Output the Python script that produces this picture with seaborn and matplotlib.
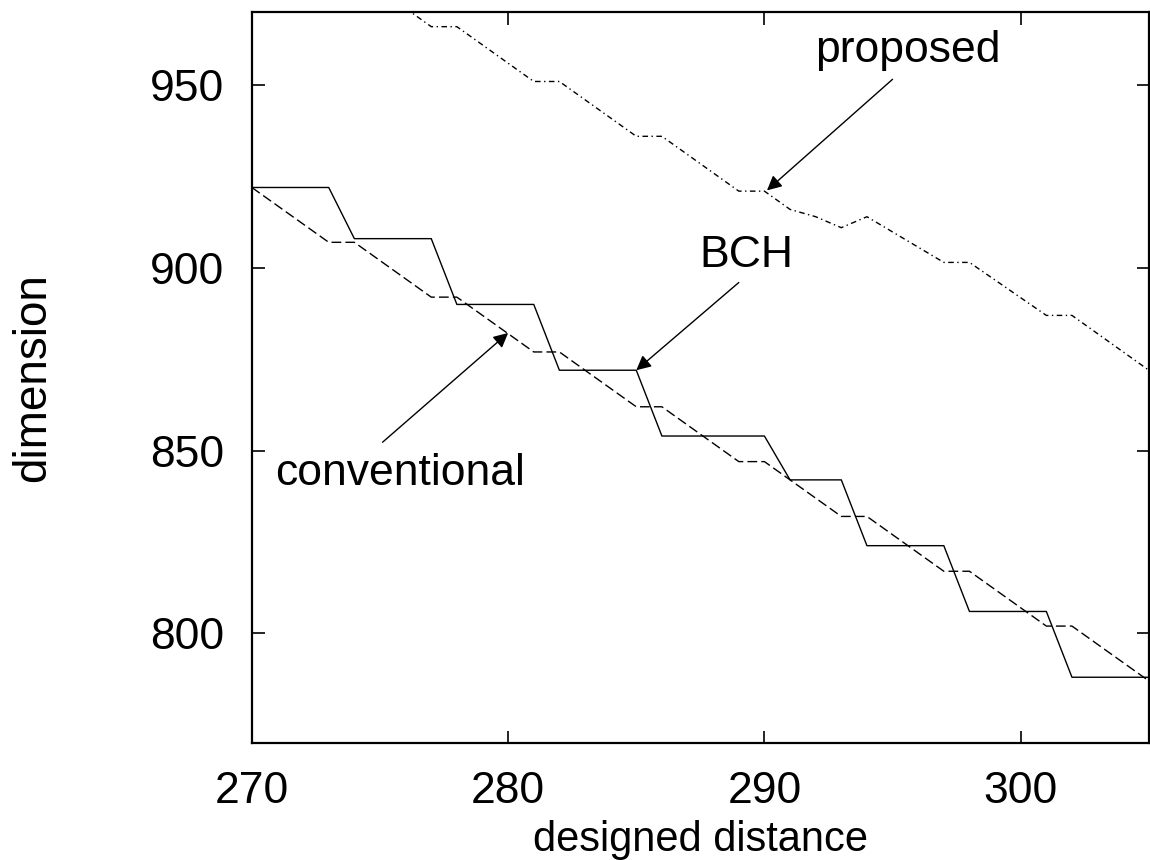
import numpy as np
import pandas as pd
import matplotlib
matplotlib.use("Agg")
import matplotlib.pyplot as plt
import seaborn as sns

# ── Data ────────────────────────────────────────────────
bch_x = [270, 273, 274, 277, 278, 281, 282, 285, 286, 290, 291, 293, 294, 297, 298, 301, 302, 305]
bch_y = [922, 922, 908, 908, 890, 890, 872, 872, 854, 854, 842, 842, 824, 824, 806, 806, 788, 788]

conv_x = [270, 273, 274, 277, 278, 281, 282, 285, 286, 289, 290, 293, 294, 297, 298, 301, 302, 305]
conv_y = [922, 907, 907, 892, 892, 877, 877, 862, 862, 847, 847, 832, 832, 817, 817, 802, 802, 787]

prop_x = [276, 277, 278, 281, 282, 285, 286, 289, 290, 291, 292, 293, 294, 297, 298, 301, 302, 305]
prop_y = [971, 966, 966, 951, 951, 936, 936, 921, 921, 916, 914, 911, 914, 901.5, 901.5, 887, 887, 872]

x_ticks = [270, 280, 290, 300]
y_ticks = [800, 850, 900, 950]

df = pd.concat([
    pd.DataFrame({"x": bch_x, "y": bch_y, "method": "BCH"}),
    pd.DataFrame({"x": conv_x, "y": conv_y, "method": "conventional"}),
    pd.DataFrame({"x": prop_x, "y": prop_y, "method": "proposed"}),
])

# ── Style ───────────────────────────────────────────────
sns.set_style("ticks")
plt.rcParams["font.family"] = ["Liberation Sans", "DejaVu Sans"]
for key in ["text.color", "axes.labelcolor", "xtick.color", "ytick.color", "axes.edgecolor"]:
    plt.rcParams[key] = "black"
FS = 32

fig = plt.figure(figsize=(11.5, 8.6), dpi=100)
ax = fig.add_axes([0.219, 0.136, 0.780, 0.850])

sns.lineplot(
    data=df, x="x", y="y", hue="method", style="method",
    palette={"BCH": "black", "conventional": "black", "proposed": "black"},
    dashes={"BCH": "", "conventional": (7, 3), "proposed": (4, 2.5, 1, 2.5)},
    linewidth=1.0, legend=False, sort=False, estimator=None, ax=ax,
)

ax.set_xlim(270, 305)
ax.set_ylim(770, 970)
ax.set_xticks(x_ticks)
ax.set_yticks(y_ticks)
ax.tick_params(direction="in", length=9, width=1.2, labelsize=FS, pad=20,
               top=True, right=True)
for s in ax.spines.values():
    s.set_linewidth(1.6)
    s.set_visible(True)

ax.set_xlabel("designed distance", fontsize=30, labelpad=6)
ax.set_ylabel("dimension", fontsize=33, labelpad=68)

# ── Annotations ─────────────────────────────────────────
arrow = dict(arrowstyle="-|>", color="black", lw=1.0, mutation_scale=22, shrinkA=0, shrinkB=0)
ax.annotate("", xy=(290.1, 921.2), xytext=(295.0, 951.6), arrowprops=arrow)
ax.text(295.6, 959.6, "proposed", fontsize=FS, ha="center", va="center")

ax.annotate("", xy=(285.0, 872.0), xytext=(289.0, 896.0), arrowprops=arrow)
ax.text(289.3, 903.3, "BCH", fontsize=FS, ha="center", va="center")

ax.annotate("", xy=(280.0, 882.2), xytext=(275.1, 852.3), arrowprops=arrow)
ax.text(275.8, 843.8, "conventional", fontsize=FS, ha="center", va="center")

fig.savefig("out.png", dpi=100)
